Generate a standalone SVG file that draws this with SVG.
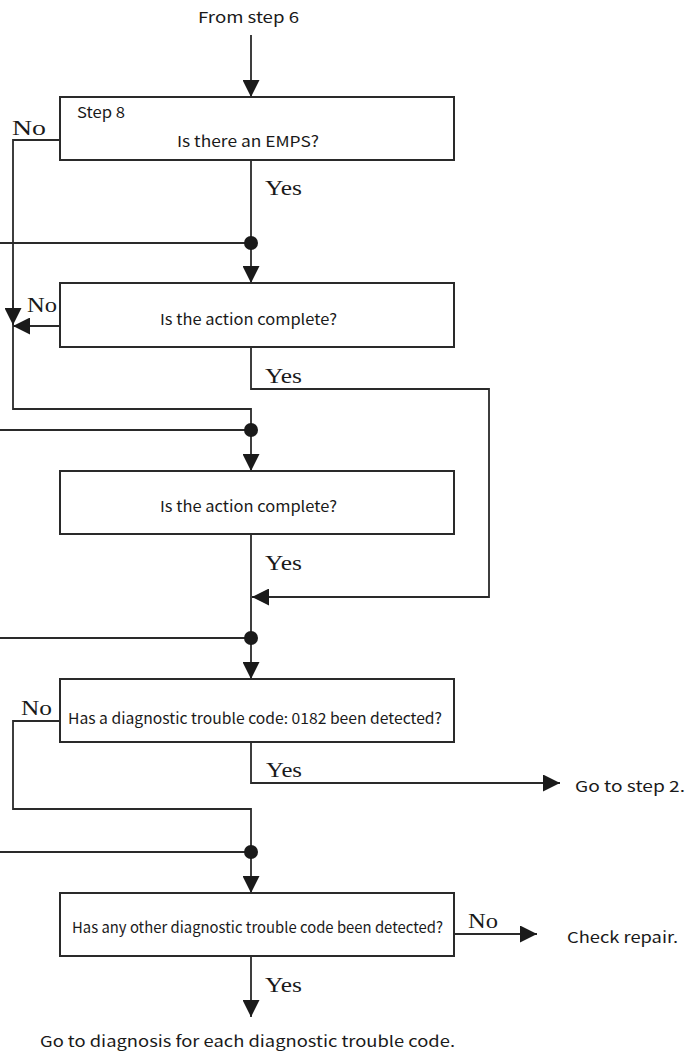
<svg xmlns="http://www.w3.org/2000/svg" width="688" height="1053" viewBox="0 0 688 1053">
<defs>
<style>
.box{fill:#fff;stroke:#2a2a2a;stroke-width:2}
.ln{fill:none;stroke:#2a2a2a;stroke-width:1.8}
.arr{marker-end:url(#ah)}
.t{font-family:"Noto Sans CJK JP","Liberation Sans",sans-serif;font-size:15px;fill:#1a1a1a}
.yn{font-family:"Liberation Serif","DejaVu Serif",serif;font-size:22px;fill:#1a1a1a}
.dot{fill:#1a1a1a}
</style>
<marker id="ah" viewBox="0 0 17 17" refX="17" refY="8.5" markerWidth="17" markerHeight="17" markerUnits="userSpaceOnUse" orient="auto">
<path d="M0,0 L17,8.5 L0,17 z" fill="#1a1a1a"/>
</marker>
</defs>
<rect width="688" height="1053" fill="#fff"/>

<g id="connectors">
<path class="ln arr" d="M251,35 V97"/>
<path class="ln arr" d="M251,160 V283"/>
<path class="ln" d="M0,243 H251"/>
<path class="ln" d="M60,140 H13 V409 H251 V430"/>
<path class="ln arr" d="M13,300 V325"/>
<path class="ln arr" d="M60,326 H13"/>
<path class="ln arr" d="M251,347 V389 H489 V597 H252"/>
<path class="ln" d="M0,430 H251"/>
<path class="ln arr" d="M251,430 V471"/>
<path class="ln" d="M251,534 V638"/>
<path class="ln" d="M0,638 H251"/>
<path class="ln arr" d="M251,638 V679"/>
<path class="ln" d="M60,721 H13 V809 H251 V852"/>
<path class="ln arr" d="M251,742 V783 H560"/>
<path class="ln" d="M0,852 H251"/>
<path class="ln arr" d="M251,852 V893"/>
<path class="ln arr" d="M454,934 H537"/>
<path class="ln arr" d="M251,956 V1017"/>
<circle class="dot" cx="251" cy="243" r="7"/>
<circle class="dot" cx="251" cy="430" r="7"/>
<circle class="dot" cx="251" cy="638" r="7"/>
<circle class="dot" cx="251" cy="852" r="7"/>
</g>

<g id="start">
<text class="t" x="198" y="23" textLength="101" lengthAdjust="spacingAndGlyphs">From step 6</text>
</g>

<g id="step8">
<rect class="box" x="60" y="97" width="394" height="63"/>
<text class="t" x="77" y="118" textLength="48" lengthAdjust="spacingAndGlyphs">Step 8</text>
<text class="t" x="177" y="147" textLength="142" lengthAdjust="spacingAndGlyphs">Is there an EMPS?</text>
</g>

<g id="action1">
<rect class="box" x="60" y="283" width="394" height="64"/>
<text class="t" x="160" y="325" textLength="177" lengthAdjust="spacingAndGlyphs">Is the action complete?</text>
</g>

<g id="action2">
<rect class="box" x="60" y="471" width="394" height="63"/>
<text class="t" x="160" y="512" textLength="177" lengthAdjust="spacingAndGlyphs">Is the action complete?</text>
</g>

<g id="dtc0182">
<rect class="box" x="60" y="679" width="394" height="63"/>
<text class="t" x="68" y="724" textLength="374" lengthAdjust="spacingAndGlyphs">Has a diagnostic trouble code: 0182 been detected?</text>
</g>

<g id="dtcother">
<rect class="box" x="60" y="893" width="394" height="63"/>
<text class="t" x="72" y="933" font-size="14" textLength="371" lengthAdjust="spacingAndGlyphs">Has any other diagnostic trouble code been detected?</text>
</g>

<g id="goto2">
<text class="t" x="575" y="792" textLength="110" lengthAdjust="spacingAndGlyphs">Go to step 2.</text>
</g>

<g id="checkrepair">
<text class="t" x="567" y="943" textLength="111" lengthAdjust="spacingAndGlyphs">Check repair.</text>
</g>

<g id="diagnosis">
<text class="t" x="40" y="1047" textLength="415" lengthAdjust="spacingAndGlyphs">Go to diagnosis for each diagnostic trouble code.</text>
</g>

<g id="labels">
<text class="yn" x="12" y="135" textLength="34" lengthAdjust="spacingAndGlyphs">No</text>
<text class="yn" x="265" y="195" textLength="37" lengthAdjust="spacingAndGlyphs">Yes</text>
<text class="yn" x="27" y="312" textLength="30" lengthAdjust="spacingAndGlyphs">No</text>
<text class="yn" x="265" y="383" textLength="37" lengthAdjust="spacingAndGlyphs">Yes</text>
<text class="yn" x="265" y="570" textLength="37" lengthAdjust="spacingAndGlyphs">Yes</text>
<text class="yn" x="21" y="715" textLength="31" lengthAdjust="spacingAndGlyphs">No</text>
<text class="yn" x="266" y="777" textLength="36" lengthAdjust="spacingAndGlyphs">Yes</text>
<text class="yn" x="468" y="928" textLength="30" lengthAdjust="spacingAndGlyphs">No</text>
<text class="yn" x="265" y="992" textLength="37" lengthAdjust="spacingAndGlyphs">Yes</text>
</g>
</svg>
